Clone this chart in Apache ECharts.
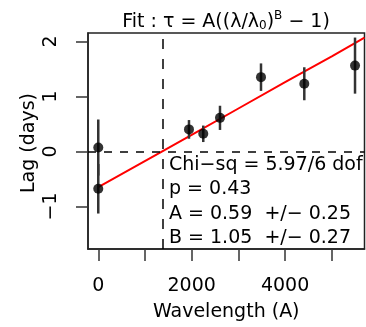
<!DOCTYPE html>
<html>
<head>
<meta charset="utf-8">
<script src="https://cdn.jsdelivr.net/npm/echarts@6/dist/echarts.min.js"></script>
<style>html,body{margin:0;padding:0;background:#fff}#c{width:366px;height:327px}</style>
</head>
<body>
<div id="c"></div>
<script>
// Data
var wavelength = [0, 0, 1942, 2248, 2606, 3484, 4411, 5497];
var lag = [0.07, -0.68, 0.40, 0.32, 0.61, 1.35, 1.23, 1.56];
var lagErr = [0.51, 0.45, 0.17, 0.15, 0.22, 0.25, 0.30, 0.51];
var fitWavelength = [0, 1370, 2000, 3000, 4000, 5000, 5700];
var fitLag = [-0.65, 0.0, 0.30, 0.78, 1.26, 1.73, 2.07];
var lambda0 = 1370;
var xTicks = [0, 1000, 2000, 3000, 4000, 5000];
var xLabels = [0, 2000, 4000];
var yTicks = [-1, 0, 1, 2];
var statLines = ['Chi\u2212sq = 5.97/6 dof', 'p = 0.43', 'A = 0.59  +/\u2212 0.25', 'B = 1.05  +/\u2212 0.27'];

var FONT = 'DejaVu Sans';
var chart = echarts.init(document.getElementById('c'), null, {renderer: 'canvas'});

var points = wavelength.map(function (w, i) { return [w, lag[i]]; });
var bars = wavelength.map(function (w, i) { return [w, lag[i] - lagErr[i], lag[i] + lagErr[i]]; });
var fit = fitWavelength.map(function (w, i) { return [w, fitLag[i]]; });

var statGraphics = statLines.map(function (s, i) {
  return {
    type: 'text', x: 169, y: 165 + i * 24.5,
    style: {text: s, font: '19px "' + FONT + '"', fill: '#000', verticalAlign: 'middle'}
  };
});

chart.setOption({
  animation: false,
  grid: {left: 88, top: 33, width: 276.5, height: 218, show: true, borderColor: '#222', borderWidth: 1.5, containLabel: false},
  xAxis: {
    type: 'value', min: -220, max: 5700,
    splitLine: {show: false},
    axisLine: {show: true, onZero: false, lineStyle: {color: '#222', width: 1.5}},
    axisTick: {show: true, customValues: xTicks, length: 12, lineStyle: {color: '#333', width: 1.5}},
    axisLabel: {customValues: xLabels, margin: 28, fontFamily: FONT, fontSize: 19, color: '#000',
      formatter: function (v) { return String(v); }},
    name: 'Wavelength (A)', nameLocation: 'middle', nameGap: 54,
    nameTextStyle: {fontFamily: FONT, fontSize: 19, color: '#000'}
  },
  yAxis: {
    type: 'value', min: -1.775, max: 2.153,
    splitLine: {show: false},
    axisLine: {show: true, onZero: false, lineStyle: {color: '#222', width: 1.5}},
    axisTick: {show: true, customValues: yTicks, length: 12, lineStyle: {color: '#333', width: 1.5}},
    axisLabel: {customValues: yTicks, rotate: 90, margin: 27, fontFamily: FONT, fontSize: 19, color: '#000',
      formatter: function (v) { return v < 0 ? '\u2212' + Math.abs(v) : String(v); }}
  },
  graphic: [{
    type: 'text', x: 226, y: 21,
    style: {
      text: '{a|Fit : \u03c4 = A((\u03bb/\u03bb}{sub|0}{a|)}{sup|B}{a| \u2212 1)}',
      align: 'center', verticalAlign: 'middle',
      rich: {
        a: {fontFamily: FONT, fontSize: 19, fill: '#000', lineHeight: 22, verticalAlign: 'bottom'},
        sub: {fontFamily: FONT, fontSize: 12, fill: '#000', lineHeight: 22, verticalAlign: 'bottom'},
        sup: {fontFamily: FONT, fontSize: 12, fill: '#000', lineHeight: 22, verticalAlign: 'top'}
      }
    }
  }, {
    type: 'text', x: 29, y: 143, rotation: Math.PI / 2,
    style: {text: 'Lag (days)', font: '19px "' + FONT + '"', fill: '#000', align: 'center', verticalAlign: 'middle'}
  }].concat(statGraphics),
  series: [
    {
      type: 'line', data: [], silent: true,
      markLine: {
        silent: true, symbol: 'none', label: {show: false},
        data: [
          {yAxis: 0, lineStyle: {type: [8, 8], color: '#000', width: 1.5}},
          {xAxis: lambda0, lineStyle: {type: [10, 10], color: '#000', width: 1.5}}
        ]
      }
    },
    {
      type: 'line', data: fit, showSymbol: false, smooth: false, clip: true,
      lineStyle: {color: '#ff0000', width: 2}, z: 3
    },
    {
      type: 'custom', data: bars, z: 4,
      renderItem: function (params, api) {
        var a = api.coord([api.value(0), api.value(1)]);
        var b = api.coord([api.value(0), api.value(2)]);
        return {type: 'line', shape: {x1: a[0], y1: a[1], x2: b[0], y2: b[1]}, style: {stroke: '#333', lineWidth: 2.5}};
      }
    },
    {
      type: 'scatter', data: points, symbol: 'circle', symbolSize: 10, z: 5,
      itemStyle: {color: '#000'}
    }
  ]
});
</script>
</body>
</html>
